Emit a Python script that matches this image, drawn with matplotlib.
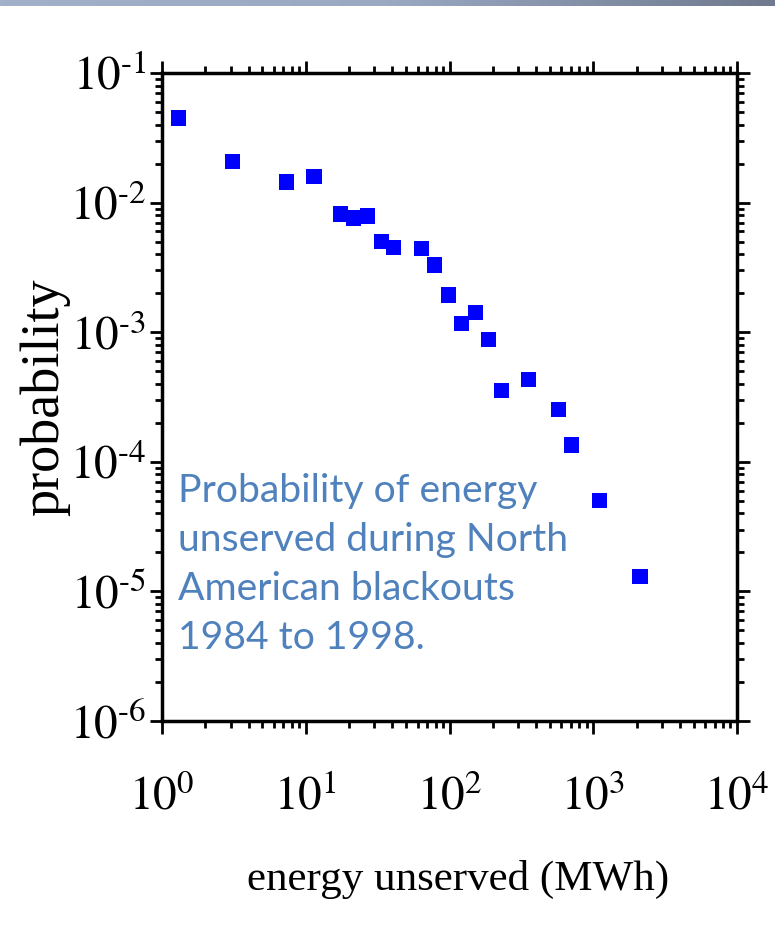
import numpy as np
import matplotlib
matplotlib.use("Agg")
import matplotlib.pyplot as plt
from matplotlib.ticker import LogLocator, NullFormatter, FuncFormatter

# Blackout energy-unserved distribution (MWh vs. probability)
energy_mwh = [1.31, 3.11, 7.38, 11.4, 17.5, 21.5, 27.0, 33.6, 41.0, 63.9,
              79.1, 97.9, 121.7, 150.8, 187.5, 230.7, 355.5, 570, 708,
              1104, 2115]
probability = [0.045, 0.0209, 0.0144, 0.0158, 0.00817, 0.0076, 0.00788,
               0.00499, 0.00452, 0.00443, 0.00330, 0.00194, 0.00116,
               0.00142, 0.00088, 0.000354, 0.000433, 0.000254, 0.000135,
               5.0e-5, 1.31e-5]

note = "Probability of energy\nunserved during North\nAmerican blackouts\n1984 to 1998."

plt.rcParams["font.family"] = "Liberation Serif"
plt.rcParams["mathtext.fontset"] = "stix"


def pow10(v, pos):
    n = int(round(np.log10(v)))
    if n < 0:
        return r"$10^{\text{-}%d}$" % (-n)
    return r"$10^{%d}$" % n


fig = plt.figure(figsize=(7.75, 9.27), dpi=100)

# thin gradient strip along the top edge
band = fig.add_axes([0, 1 - 6 / 927, 1, 6 / 927])
grad = np.linspace(0, 1, 256)[None, :]
cmap = matplotlib.colors.LinearSegmentedColormap.from_list(
    "band", ["#a3b0c9", "#9aa8c2", "#6f7a8e"])
band.imshow(grad, aspect="auto", cmap=cmap)
band.axis("off")

ax = fig.add_axes([162 / 775, 1 - 721 / 927, (737 - 162) / 775, (721 - 73) / 927])
ax.scatter(energy_mwh, probability, marker="s", s=120, color="#0000ff",
           edgecolors="none", zorder=3)

ax.set_xscale("log")
ax.set_yscale("log")
ax.set_xlim(1, 1e4)
ax.set_ylim(1e-6, 1e-1)

for axis in (ax.xaxis, ax.yaxis):
    axis.set_major_locator(LogLocator(base=10, numticks=10))
    axis.set_minor_locator(LogLocator(base=10, subs=np.arange(2, 10), numticks=10))
    axis.set_major_formatter(FuncFormatter(pow10))
    axis.set_minor_formatter(NullFormatter())

ax.tick_params(which="both", direction="out", top=True, right=True,
               width=2, colors="black")
ax.tick_params(which="major", length=9, labelsize=34, pad=2)
ax.tick_params(which="minor", length=5)
ax.tick_params(axis="x", which="major", pad=30)
for sp in ax.spines.values():
    sp.set_linewidth(2.5)

ax.set_xlabel("energy unserved (MWh)", fontsize=31)
ax.xaxis.set_label_coords(0.515, -0.215)
ax.set_ylabel("probability", fontsize=39, labelpad=0)

ax.text(0.028, 0.382, note, transform=ax.transAxes, fontsize=28.2,
        family="Lato", color="#4f81bd", va="top", ha="left",
        linespacing=1.44)

fig.savefig("out.png", dpi=100)
